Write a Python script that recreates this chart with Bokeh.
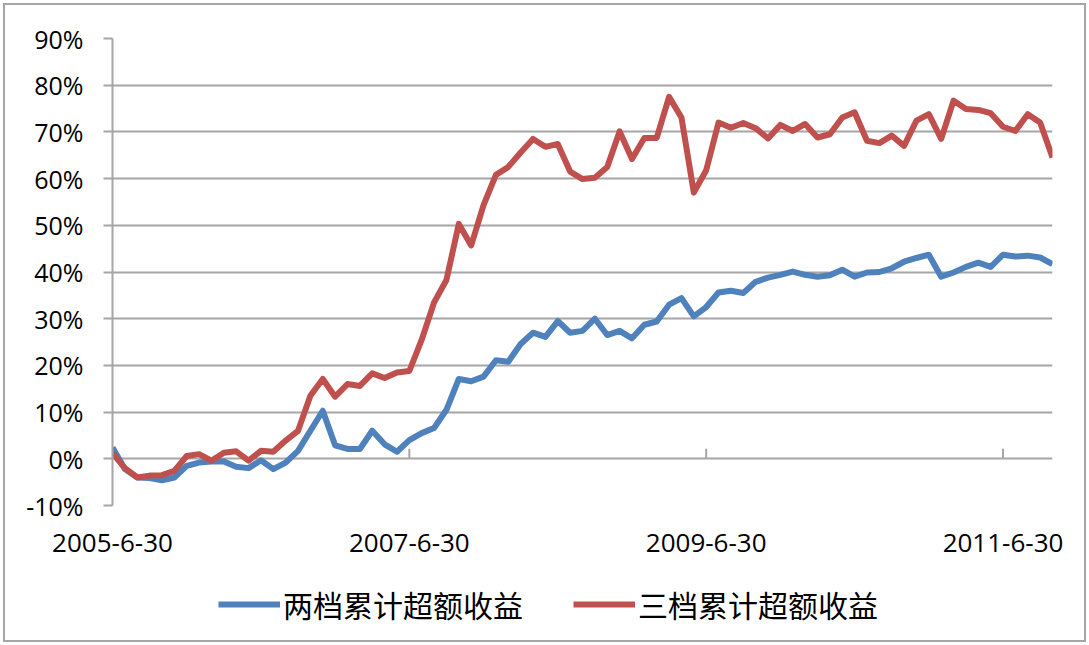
import math
from bokeh.plotting import figure
from bokeh.layouts import column
from bokeh.models import (FixedTicker, PrintfTickFormatter, LinearAxis, Range1d,
                          Legend, LegendItem)
from bokeh.embed import file_html
from bokeh.resources import INLINE

# month index counted from 2005-06-30 (monthly data to 2011-10-31)
months = list(range(77))
tick_months = [0, 24, 48, 72]
tick_labels = ["2005-6-30", "2007-6-30", "2009-6-30", "2011-6-30"]
y_ticks = list(range(-10, 100, 10))
names = ["两档累计超额收益", "三档累计超额收益"]
colors = ["#4F81BD", "#C0504D"]

two_tier = [2.4, -2.2, -4.0, -4.1, -4.6, -4.0, -1.5, -0.8, -0.6, -0.6,
            -1.7, -2.0, -0.3, -2.2, -0.8, 1.7, 6.0, 10.3, 2.9, 2.1,
            2.1, 6.0, 3.1, 1.5, 4.0, 5.5, 6.6, 10.5, 17.1, 16.6,
            17.6, 21.1, 20.8, 24.6, 27.0, 26.1, 29.5, 27.0, 27.4, 30.0,
            26.5, 27.4, 25.8, 28.7, 29.4, 33.0, 34.4, 30.5, 32.5, 35.6,
            36.0, 35.5, 37.9, 38.8, 39.4, 40.1, 39.4, 39.0, 39.3, 40.5,
            39.0, 39.9, 40.0, 40.8, 42.2, 43.0, 43.7, 39.0, 39.9, 41.1,
            42.0, 41.1, 43.7, 43.3, 43.5, 43.1, 41.7]

three_tier = [1.2, -2.0, -4.0, -3.6, -3.5, -2.6, 0.6, 1.0, -0.4, 1.3,
              1.6, -0.4, 1.7, 1.5, 3.9, 6.0, 13.5, 17.1, 13.3, 16.0,
              15.6, 18.3, 17.3, 18.5, 18.8, 25.5, 33.5, 38.3, 50.3, 45.7,
              54.3, 60.8, 62.5, 65.6, 68.5, 66.8, 67.4, 61.5, 59.9, 60.2,
              62.5, 70.1, 64.2, 68.7, 68.7, 77.5, 73.1, 57.0, 61.8, 72.0,
              70.9, 71.9, 70.8, 68.6, 71.5, 70.2, 71.7, 68.8, 69.5, 73.1,
              74.2, 68.1, 67.6, 69.2, 67.0, 72.4, 73.8, 68.5, 76.7, 74.9,
              74.7, 74.0, 71.1, 70.2, 73.8, 72.0, 64.5]

GRID = "#a6a6a6"
FONT = "Open Sans"

p = figure(width=1079, height=565, output_backend="svg", toolbar_location=None,
           x_range=Range1d(0, 76), y_range=Range1d(-10, 90),
           x_axis_type=None,
           min_border_left=107, min_border_right=32,
           min_border_top=33, min_border_bottom=65)
p.outline_line_color = None
p.background_fill_color = "white"
p.border_fill_color = "white"

# y axis
ya = p.yaxis[0]
ya.ticker = FixedTicker(ticks=y_ticks)
ya.formatter = PrintfTickFormatter(format="%d%%")
ya.axis_line_color = GRID
ya.axis_line_width = 2
ya.major_tick_line_color = GRID
ya.major_tick_line_width = 2
ya.major_tick_out = 9
ya.major_tick_in = 0
ya.minor_tick_line_color = None
ya.major_label_standoff = 20
ya.major_label_text_font = FONT
ya.major_label_text_font_size = "25px"
ya.major_label_text_color = "black"

p.ygrid.ticker = FixedTicker(ticks=y_ticks)
p.ygrid.grid_line_color = GRID
p.ygrid.grid_line_width = 2

# x labels axis (bottom)
xa = LinearAxis(ticker=FixedTicker(ticks=tick_months),
                major_label_overrides={m: l for m, l in zip(tick_months, tick_labels)},
                axis_line_color=None, major_tick_line_color=None,
                minor_tick_line_color=None,
                major_tick_out=0, major_tick_in=0, major_label_standoff=28,
                major_label_text_font=FONT, major_label_text_font_size="26px",
                major_label_text_color="black")
p.add_layout(xa, "below")

# category-axis tick marks on the 0% line, pointing up
p.ray(x=tick_months, y=[0] * len(tick_months), length=10, length_units="screen",
      angle=math.pi / 2, line_color=GRID, line_width=2)

p.line(months, two_tier, line_width=6, line_color=colors[0], line_join="round")
p.line(months, three_tier, line_width=6, line_color=colors[1], line_join="round")

# legend strip below the chart
lg = figure(width=1079, height=70, output_backend="svg", toolbar_location=None,
            x_axis_type=None, y_axis_type=None,
            x_range=Range1d(0, 1), y_range=Range1d(0, 1),
            min_border_left=107, min_border_right=32, min_border_top=0, min_border_bottom=0)
lg.outline_line_color = None
lg.xgrid.visible = False
lg.ygrid.visible = False
items = []
for name, col in zip(names, colors):
    r = lg.line(x=[float("nan")], y=[float("nan")], line_width=6, line_color=col)
    items.append(LegendItem(label=name, renderers=[r]))
legend = Legend(items=items, orientation="horizontal", location=(106, 14),
                glyph_width=62, glyph_height=20, label_standoff=3, spacing=50,
                padding=0, margin=0, border_line_color=None,
                background_fill_alpha=0,
                label_text_font="Noto Sans CJK SC", label_text_font_size="30px",
                label_text_color="black")
lg.add_layout(legend, "center")

layout = column(p, lg, spacing=0,
                styles={"border": "2px solid #a6a6a6", "margin": "3px",
                        "background-color": "white"})

open("out.html", "w").write(file_html(layout, INLINE))
